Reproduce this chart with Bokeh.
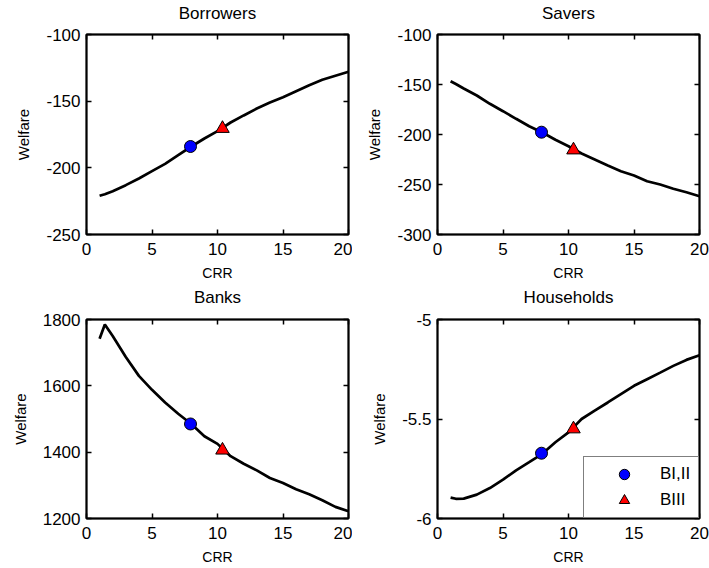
from bokeh.plotting import figure
from bokeh.layouts import column, row
from bokeh.models import (FixedTicker, LinearAxis, Range1d, PrintfTickFormatter,
                          Legend, LegendItem)
from bokeh.embed import file_html
from bokeh.resources import INLINE

# ---------------- data ----------------
crr = [1.0, 1.4, 2.0, 3.0, 4.0, 5.0, 6.0, 7.0, 8.0, 9.0, 10.0, 11.0, 12.0,
       13.0, 14.0, 15.0, 16.0, 17.0, 18.0, 19.0, 20.0]
borrowers = [-221.0, -219.8, -217.5, -213.0, -208.0, -202.5, -197.0, -190.5, -184.0,
             -178.0, -172.5, -166.0, -160.7, -155.5, -151.0, -147.0, -142.5, -138.0,
             -134.0, -131.0, -128.0]
savers = [-146.7, -149.5, -154.0, -161.0, -169.3, -176.7, -184.3, -191.7, -198.0,
          -205.3, -211.7, -219.0, -225.0, -231.0, -236.7, -241.0, -246.7, -250.0,
          -254.3, -257.7, -261.7]
banks = [1742, 1785, 1750, 1687, 1630, 1588, 1550, 1516, 1485, 1448, 1425, 1388,
         1365, 1345, 1322, 1307, 1288, 1273, 1255, 1235, 1222]
households = [-5.895, -5.901, -5.900, -5.880, -5.847, -5.805, -5.758, -5.717, -5.675,
              -5.617, -5.567, -5.500, -5.458, -5.417, -5.375, -5.333, -5.300, -5.267,
              -5.233, -5.203, -5.180]

crr_bi_ii = 7.94
crr_biii = 10.38
borrowers_pts = [-184.0, -170.5]
savers_pts = [-197.7, -215.5]
banks_pts = [1485, 1406]
households_pts = [-5.672, -5.550]

x_ticks = [0, 5, 10, 15, 20]
borrowers_ticks = [-250, -200, -150, -100]
savers_ticks = [-300, -250, -200, -150, -100]
banks_ticks = [1200, 1400, 1600, 1800]
households_ticks = [-6, -5.5, -5]

legend_labels = ["BI,II", "BIII"]
titles = ["Borrowers", "Savers", "Banks", "Households"]

FONT = "Liberation Sans"


def style_axis(ax, hidden=False):
    ax.axis_line_color = "black"
    ax.axis_line_width = 1.5
    ax.major_tick_in = 5
    ax.major_tick_out = 0
    ax.major_tick_line_color = "black"
    ax.major_tick_line_width = 1.5
    ax.minor_tick_line_color = None
    ax.major_label_text_font = FONT
    ax.major_label_text_color = "black"
    ax.axis_label_text_font = FONT
    ax.axis_label_text_font_style = "normal"
    ax.axis_label_text_color = "black"
    if hidden:
        ax.major_label_text_font_size = "1px"
        ax.major_label_text_color = None
        ax.major_label_standoff = 0
    else:
        ax.major_label_text_font_size = "17px"


def panel(title, y, pts, yr, yticks, width, height, mb, title_gap, legend=False):
    p = figure(width=width, height=height,
               x_range=Range1d(0, 20), y_range=Range1d(yr[0], yr[1]),
               output_backend="svg", toolbar_location=None,
               min_border_left=mb[0], min_border_right=mb[1],
               min_border_top=mb[2], min_border_bottom=mb[3],
               background_fill_color="white", border_fill_color="white")
    p.xgrid.visible = False
    p.ygrid.visible = False
    p.outline_line_color = "black"
    p.outline_line_width = 2
    p.outline_line_alpha = 1

    xa = p.xaxis[0]
    xa.ticker = FixedTicker(ticks=x_ticks)
    xa.formatter = PrintfTickFormatter(format="%g")
    xa.axis_label = "CRR"
    style_axis(xa)
    xa.axis_label_text_font_size = "14px"
    xa.major_label_standoff = 8
    xa.axis_label_standoff = 7

    ya = p.yaxis[0]
    ya.ticker = FixedTicker(ticks=yticks)
    ya.formatter = PrintfTickFormatter(format="%g")
    ya.axis_label = "Welfare"
    style_axis(ya)
    ya.axis_label_text_font_size = "15px"
    ya.major_label_standoff = 6
    ya.axis_label_standoff = 11

    # top axis: inner ticks, and the panel title as its label
    top = LinearAxis(ticker=FixedTicker(ticks=x_ticks))
    style_axis(top, hidden=True)
    top.axis_label = title
    top.axis_label_text_font_size = "17px"
    top.axis_label_standoff = title_gap
    p.add_layout(top, "above")
    right = LinearAxis(ticker=FixedTicker(ticks=yticks))
    style_axis(right, hidden=True)
    p.add_layout(right, "right")

    p.line(crr, y, line_color="black", line_width=2.7)
    r1 = p.scatter([crr_bi_ii], [pts[0]], marker="circle", size=12,
                   fill_color="#0000ff", line_color="black", line_width=1)
    r2 = p.scatter([crr_biii], [pts[1]], marker="triangle", size=13.5,
                   fill_color="#ff0000", line_color="black", line_width=1)

    if legend:
        lg = Legend(items=[LegendItem(label=legend_labels[0], renderers=[r1]),
                           LegendItem(label=legend_labels[1], renderers=[r2])],
                    location="bottom_right", margin=0, padding=4, spacing=0,
                    glyph_width=72, glyph_height=26, label_height=26,
                    label_width=34, label_standoff=0,
                    border_line_color="black", border_line_width=1.5,
                    background_fill_color="white", background_fill_alpha=1,
                    label_text_font=FONT, label_text_font_size="17px",
                    label_text_color="black")
        p.add_layout(lg)
    return p


p1 = panel(titles[0], borrowers, borrowers_pts, (-250, -100), borrowers_ticks,
           352, 284, (86, 4, 34, 50), 12)
p2 = panel(titles[1], savers, savers_pts, (-300, -100), savers_ticks,
           357, 284, (85, 10, 34, 50), 12)
p3 = panel(titles[2], banks, banks_pts, (1200, 1800), banks_ticks,
           352, 284, (86, 4, 34, 50), 13)
p4 = panel(titles[3], households, households_pts, (-6, -5), households_ticks,
           357, 284, (85, 10, 34, 50), 13, legend=True)

layout = column(row(p1, p2, spacing=0), row(p3, p4, spacing=0), spacing=0)

open("out.html", "w").write(file_html(layout, INLINE))
